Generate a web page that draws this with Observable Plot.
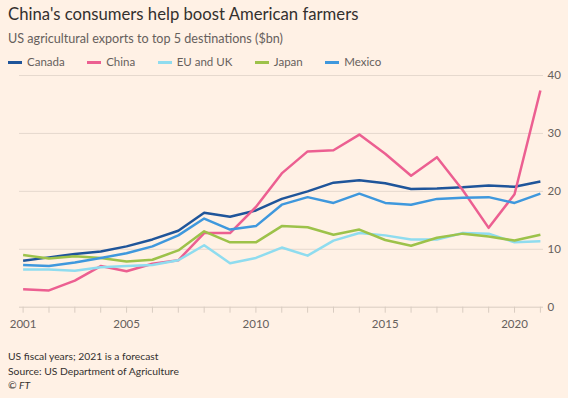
<!DOCTYPE html>
<html>
<head>
<meta charset="utf-8">
<script src="https://cdn.jsdelivr.net/npm/d3@7"></script>
<script src="https://cdn.jsdelivr.net/npm/@observablehq/plot@0.6"></script>
<style>
  html, body { margin: 0; padding: 0; background: #fff1e5; }
  body { width: 568px; height: 398px; position: relative; overflow: hidden; font-family: Lato, "Noto Sans", sans-serif; }
  #title { position: absolute; left: 8px; top: 2px; font-size: 16.7px; line-height: 24px; color: #33302e; white-space: nowrap; }
  #subtitle { position: absolute; left: 8px; top: 31px; font-size: 12.6px; line-height: 16px; color: #66605c; white-space: nowrap; }
  #legend { position: absolute; left: 8px; top: 55px; font-size: 11.5px; line-height: 14px; color: #66605c; display: flex; white-space: nowrap; }
  #legend .item { display: flex; align-items: center; margin-right: 22.5px; }
  #legend .sw { width: 14px; height: 3px; margin-right: 5px; }
  #chart { position: absolute; left: 0; top: 68px; }
  #footer { position: absolute; left: 8px; top: 349px; font-size: 10.3px; line-height: 14.5px; color: #33302e; }
</style>
</head>
<body>
<div id="title">China's consumers help boost American farmers</div>
<div id="subtitle">US agricultural exports to top 5 destinations ($bn)</div>
<div id="legend"></div>
<div id="chart"></div>
<div id="footer">US fiscal years; 2021 is a forecast<br>Source: US Department of Agriculture<br><i>© FT</i></div>
<script>
const years = d3.range(2001, 2022);
const seriesNames = ["Canada", "China", "EU and UK", "Japan", "Mexico"];
const seriesColors = ["#1f559a", "#ec5f91", "#8fdcef", "#9dc24a", "#3f98dd"];
const canada = [8.0, 8.6, 9.2, 9.6, 10.5, 11.7, 13.2, 16.3, 15.6, 16.7, 18.7, 20.0, 21.5, 21.9, 21.4, 20.4, 20.5, 20.7, 21.0, 20.8, 21.7];
const china  = [3.1, 2.9, 4.6, 7.1, 6.2, 7.5, 8.1, 12.8, 12.8, 17.3, 23.1, 26.9, 27.1, 29.8, 26.5, 22.7, 25.9, 20.2, 13.7, 19.5, 37.4];
const euUk   = [6.5, 6.5, 6.3, 6.9, 7.1, 7.3, 8.1, 10.7, 7.6, 8.5, 10.3, 8.9, 11.5, 12.8, 12.4, 11.7, 11.7, 12.8, 12.7, 11.2, 11.4];
const japan  = [9.0, 8.4, 8.8, 8.5, 7.9, 8.2, 9.8, 13.1, 11.2, 11.2, 14.0, 13.8, 12.5, 13.4, 11.6, 10.6, 12.0, 12.7, 12.2, 11.5, 12.5];
const mexico = [7.3, 7.1, 7.7, 8.5, 9.3, 10.5, 12.4, 15.3, 13.4, 14.0, 17.7, 19.0, 18.0, 19.6, 18.0, 17.7, 18.7, 18.9, 19.0, 18.0, 19.6];
const xTickLabels = [2001, 2005, 2010, 2015, 2020];
const yTicks = [0, 10, 20, 30, 40];

const seriesValues = [canada, china, euUk, japan, mexico];
const data = seriesNames.flatMap((name, i) => years.map((year, j) => ({series: name, year, value: seriesValues[i][j]})));

// legend
const legend = document.getElementById("legend");
seriesNames.forEach((name, i) => {
  const item = document.createElement("div");
  item.className = "item";
  item.innerHTML = `<span class="sw" style="background:${seriesColors[i]}"></span><span>${name}</span>`;
  legend.appendChild(item);
});

const chart = Plot.plot({
  width: 568,
  height: 268,
  marginTop: 7,
  marginBottom: 29.3,
  marginLeft: 19,
  marginRight: 25,
  style: {fontSize: "11.5px", fontFamily: "Lato, 'Noto Sans', sans-serif", color: "#66605c", background: "transparent", overflow: "visible"},
  x: {domain: [2000.86, 2021.12]},
  y: {domain: [0, 40]},
  color: {domain: seriesNames, range: seriesColors},
  marks: [
    Plot.gridY(yTicks.filter(d => d > 0), {stroke: "#e6d9ce", strokeOpacity: 1}),
    Plot.ruleY([0], {stroke: "#d9ccc1"}),
    Plot.axisX({ticks: years, tickSize: 6, tickPadding: 7, stroke: "#d9ccc1", label: null, tickFormat: d => xTickLabels.includes(d) ? String(d) : "", fill: "#66605c"}),
    Plot.axisY({anchor: "right", ticks: yTicks, tickSize: 0, tickPadding: 4, textAnchor: "start", label: null, fill: "#66605c"}),
    Plot.lineY(data, {x: "year", y: "value", stroke: "series", strokeWidth: 2.5, strokeLinejoin: "round", strokeLinecap: "butt"})
  ]
});
document.getElementById("chart").appendChild(chart);
</script>
</body>
</html>
